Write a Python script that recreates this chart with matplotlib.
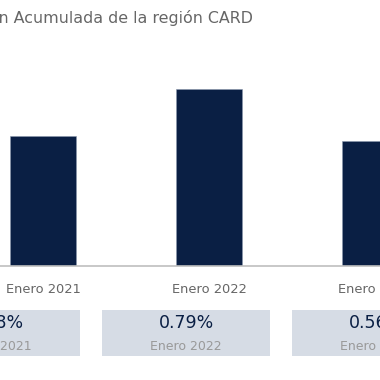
import numpy as np
import matplotlib.pyplot as plt
from matplotlib.patches import Rectangle

plt.rcParams['font.family'] = ['DejaVu Sans']

# data
periods = ['Enero 2021', 'Enero 2022', 'Enero 2023']
inflation = [0.58, 0.79, 0.56]
title = 'Inflación Acumulada de la región CARD'

W, H = 380, 380
navy = '#0a1f44'
grey_txt = '#666666'
box_col = '#d6dce5'

fig = plt.figure(figsize=(W / 100, H / 100), dpi=100)

# axes: bar centres at 43, 209, 375 px; baseline at y=266 px (from top)
px_per_unit = 166.0
x_left = -43 / px_per_unit
x_right = x_left + W / px_per_unit
ax_top_px = 60
ax_h_px = 266 - ax_top_px
ymax = max(inflation) * ax_h_px / 177.0
ax = fig.add_axes([0, (H - 266) / H, 1, ax_h_px / H])
x = np.arange(len(periods))
ax.bar(x, inflation, width=0.40, color=navy, edgecolor='#8a97ad', linewidth=0.4, zorder=2)
ax.set_xlim(x_left, x_right)
ax.set_ylim(0, ymax)
ax.axhline(0, color='#bfbfbf', linewidth=1.2, zorder=3, clip_on=False)
ax.set_xticks(x)
ax.set_xticklabels(periods, fontsize=9.4, color=grey_txt)
ax.tick_params(axis='x', length=0, pad=12)
ax.set_yticks([])
for s in ax.spines.values():
    s.set_visible(False)

fig.text(253 / W, 1 - 18 / H, title, ha='right', va='center', fontsize=11.4, color=grey_txt)

# summary boxes
box_w = 168
box_centres = [-4, 186, 376]
for cx, v, p in zip(box_centres, inflation, periods):
    fig.patches.append(Rectangle(((cx - box_w / 2) / W, 1 - 356 / H), box_w / W, 46 / H,
                                 transform=fig.transFigure, facecolor=box_col, edgecolor='none'))
    fig.text(cx / W, 1 - 323 / H, f'{v:.2f}%', ha='center', va='center', fontsize=12.5, color=navy)
    fig.text(cx / W, 1 - 346 / H, p, ha='center', va='center', fontsize=9, color='#999999')

fig.savefig('out.png', dpi=100)
